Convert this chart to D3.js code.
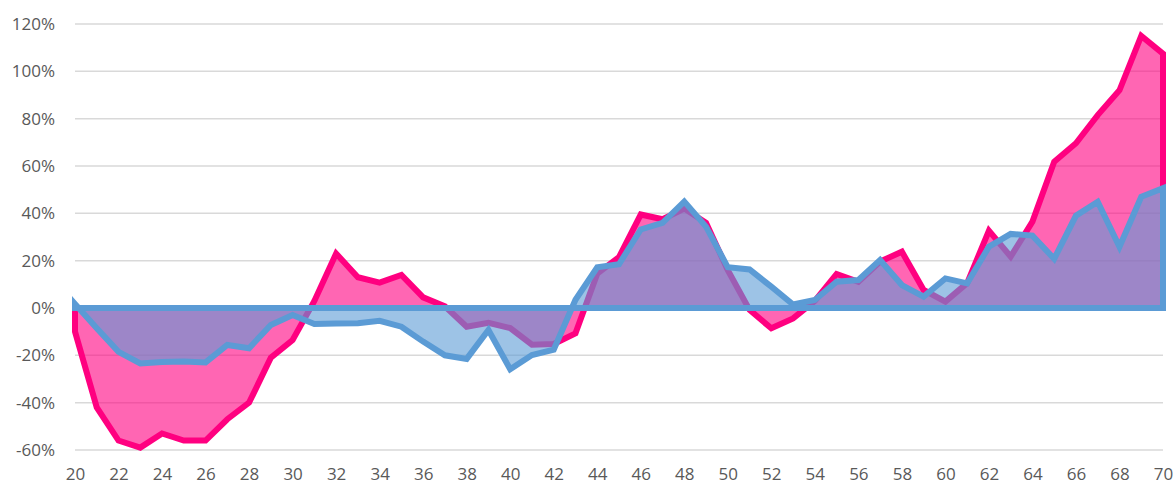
<!DOCTYPE html>
<html>
<head>
<meta charset="utf-8">
<script src="https://cdn.jsdelivr.net/npm/d3@7"></script>
<style>
    body { margin: 0; background: #fff; }
    svg text { font-family: "Open Sans", "Noto Sans", sans-serif; fill: #595959; }
</style>
</head>
<body>
<svg id="chart"></svg>
<script>
// ages 20..70
const ages = d3.range(20, 71);

// pink series (%)
const pinkValues = [
    -10, -42, -56, -59, -53, -56, -56, -47, -40, -21,
    -13.5, 3, 23, 13, 10.7, 14, 4.5, 0.7, -7.9, -6.3,
    -8.5, -15.5, -15.2, -10.7, 14.5, 21.5, 39.5, 37.5, 42, 36,
    16, -0.8, -8.6, -4.4, 3, 14.4, 11.1, 19.6, 23.8, 7.6,
    2.7, 10.5, 32.7, 21.7, 36.5, 61.8, 69.6, 81.5, 92, 115,
    107.5
];

// blue series (%)
const blueValues = [
    1.7, -8.6, -18.5, -23.4, -22.8, -22.6, -23, -15.6, -17, -7.2,
    -3, -6.8, -6.5, -6.4, -5.4, -7.9, -14.2, -20, -21.5, -9.3,
    -25.9, -19.9, -17.6, 3.5, 17.2, 18.5, 33.2, 36, 45, 34.4,
    17.2, 16.3, 9, 1.5, 3.4, 11.1, 11.8, 20.3, 9.7, 4.8,
    12.5, 10.4, 25.9, 31.3, 30.6, 20.8, 39, 44.9, 25.9, 47,
    50.6
];

const yTicks = [-60, -40, -20, 0, 20, 40, 60, 80, 100, 120];
const xTicks = d3.range(20, 71, 2);

const width = 1175, height = 486;
const margin = { top: 24, right: 12, bottom: 36, left: 75 };

const svg = d3.select("#chart")
    .attr("width", width)
    .attr("height", height);

const xScale = d3.scaleLinear()
    .domain([20, 70])
    .range([margin.left, width - margin.right]);
const yScale = d3.scaleLinear()
    .domain([-60, 120])
    .range([height - margin.bottom, margin.top]);

// gridlines
svg.append("g")
    .selectAll("line")
    .data(yTicks)
    .join("line")
    .attr("x1", xScale(20))
    .attr("x2", xScale(70))
    .attr("y1", d => yScale(d))
    .attr("y2", d => yScale(d))
    .attr("stroke", "#d9d9d9")
    .attr("stroke-width", 1.5);

// y labels
const yAxis = svg.append("g")
    .attr("transform", `translate(${margin.left}, 0)`)
    .call(d3.axisLeft(yScale).tickValues(yTicks).tickFormat(d => d + "%").tickSize(0).tickPadding(20));
yAxis.select(".domain").remove();
yAxis.selectAll("text").style("font-size", "17px").attr("fill", "#595959");

// x labels
const xAxis = svg.append("g")
    .attr("transform", `translate(0, ${height - margin.bottom})`)
    .call(d3.axisBottom(xScale).tickValues(xTicks).tickFormat(d3.format("d")).tickSize(0).tickPadding(18));
xAxis.select(".domain").remove();
xAxis.selectAll("text").style("font-size", "17px").attr("fill", "#595959");

// closed area polygon: series points, then back along zero
function areaPoints(values){
    const pts = ages.map((a, i) => [xScale(a), yScale(values[i])]);
    pts.push([xScale(70), yScale(0)]);
    pts.push([xScale(20), yScale(0)]);
    return pts;
}
const polygon = d3.line().curve(d3.curveLinearClosed);

const series = [
    { values: pinkValues, color: "#ff0080" },
    { values: blueValues, color: "#5b9bd5" }
];

series.forEach(s => {
    svg.append("path")
        .attr("d", polygon(areaPoints(s.values)))
        .attr("fill", s.color)
        .attr("fill-opacity", 0.6)
        .attr("stroke", s.color)
        .attr("stroke-width", 6)
        .attr("stroke-linejoin", "miter")
        .attr("stroke-miterlimit", 10);
});
</script>
</body>
</html>
